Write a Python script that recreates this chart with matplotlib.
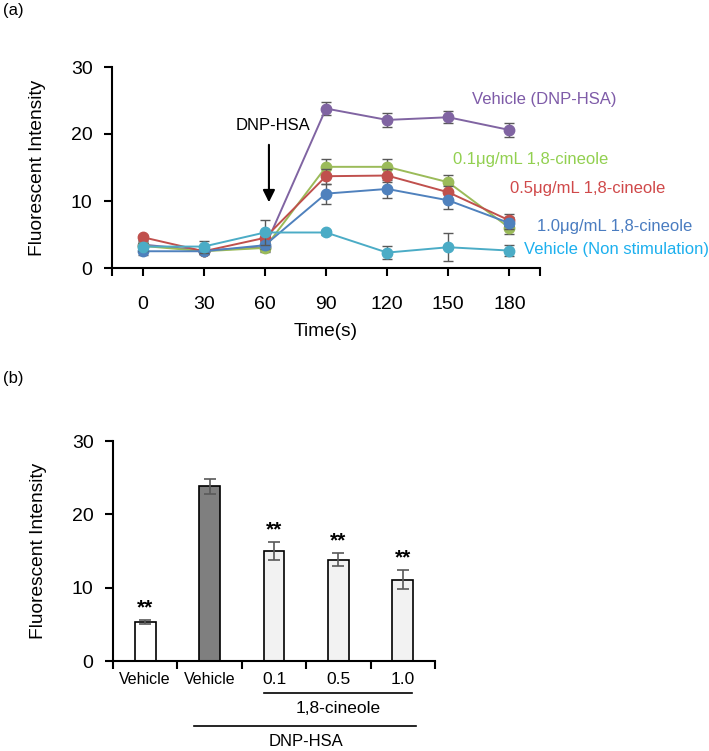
import matplotlib
matplotlib.use("Agg")
import matplotlib.pyplot as plt
import numpy as np

plt.rcParams['font.family'] = ['Liberation Sans', 'DejaVu Sans']

# (a) time course
times = [0, 30, 60, 90, 120, 150, 180]
series_names = ["Vehicle (DNP-HSA)", "0.1μg/mL 1,8-cineole", "0.5μg/mL 1,8-cineole",
                "1.0μg/mL 1,8-cineole", "Vehicle (Non stimulation)"]
vehicle_dnp = [3.5, 2.6, 3.1, 23.8, 22.1, 22.5, 20.6]
vehicle_dnp_err = [0.5, 0.4, 0.6, 1.0, 1.0, 0.9, 1.0]
cin_01 = [3.3, 2.5, 3.0, 15.1, 15.1, 12.8, 6.0]
cin_01_err = [0.5, 0.4, 0.6, 1.2, 1.2, 1.1, 0.9]
cin_05 = [4.6, 2.5, 4.5, 13.7, 13.8, 11.3, 7.1]
cin_05_err = [0.4, 0.4, 0.6, 1.1, 1.0, 1.0, 0.9]
cin_10 = [2.5, 2.5, 3.4, 11.1, 11.8, 10.1, 6.7]
cin_10_err = [0.5, 0.4, 0.6, 1.5, 1.3, 1.3, 0.9]
vehicle_ns = [3.2, 3.2, 5.3, 5.3, 2.3, 3.1, 2.6]
vehicle_ns_err = [0.6, 0.9, 1.9, 0.3, 1.0, 2.1, 0.8]

series = [vehicle_dnp, cin_01, cin_05, cin_10, vehicle_ns]
series_err = [vehicle_dnp_err, cin_01_err, cin_05_err, cin_10_err, vehicle_ns_err]
colors = ["#8064A2", "#9BBB59", "#C0504D", "#4F81BD", "#4BACC6"]
text_colors = ["#7E5BA8", "#92D050", "#D0494A", "#4A7CC0", "#1DB0EE"]
# label centres: (time axis value, intensity value)
label_x = [197.0, 190.5, 218.6, 231.4, 232.5]
label_y = [25.1, 16.2, 11.8, 6.25, 2.7]

# (b) bars at 90 s
bar_labels = ["Vehicle", "Vehicle", "0.1", "0.5", "1.0"]
bar_values = [5.3, 23.8, 15.0, 13.8, 11.1]
bar_err = [0.3, 1.0, 1.2, 0.9, 1.3]
bar_colors = ["white", "#7F7F7F", "#F2F2F2", "#F2F2F2", "#F2F2F2"]
bar_stars = ["**", "", "**", "**", "**"]

fig = plt.figure(figsize=(7.09, 7.51), dpi=100)

# ---------- panel a
ax = fig.add_axes([112 / 709, 1 - 268 / 751, 428 / 709, 201 / 751])
for i in range(len(series)):
    ax.errorbar(times, series[i], yerr=series_err[i], color=colors[i], marker="o",
                markersize=7.5, linewidth=1.4, ecolor="#595959", elinewidth=1.0,
                capsize=3.5, capthick=1.0, zorder=3 + i * 0.1)
ax.set_xlim(-15, 195)
ax.set_ylim(0, 30)
ax.set_yticks([0, 10, 20, 30])
ax.set_xticks([-15] + times + [195])
ax.set_xticklabels([""] + [str(t) for t in times] + [""])
ax.spines["top"].set_visible(False)
ax.spines["right"].set_visible(False)
ax.spines["left"].set_linewidth(1.5)
ax.spines["bottom"].set_linewidth(1.5)
ax.tick_params(direction="out", length=6, width=1.5, labelsize=14, pad=8)
ax.tick_params(axis="x", pad=14)
ax.set_ylabel("Fluorescent Intensity", fontsize=13.8, labelpad=18)
ax.set_xlabel("Time(s)", fontsize=13.8, labelpad=7)

for i in range(len(series)):
    ax.text(label_x[i], label_y[i], series_names[i], color=text_colors[i], fontsize=12,
            ha="center", va="center", clip_on=False)

ax.annotate("", xy=(62, 9.4), xytext=(62, 18.8),
            arrowprops=dict(arrowstyle="-|>", color="black", lw=1.5, mutation_scale=18))
ax.text(64, 21.3, "DNP-HSA", fontsize=12, ha="center", va="center")

fig.text(3 / 709, 1 - 10 / 751, "(a)", fontsize=12, ha="left", va="center")

# ---------- panel b
bx = fig.add_axes([113 / 709, 1 - 661 / 751, 322 / 709, 220 / 751])
pos = np.arange(len(bar_values))
bx.bar(pos, bar_values, width=0.32, color=bar_colors, edgecolor="black", linewidth=1.2,
       yerr=bar_err, ecolor="#595959", error_kw=dict(elinewidth=1.2, capsize=4, capthick=1.2))
for i in range(len(bar_values)):
    if bar_stars[i]:
        bx.text(pos[i], bar_values[i] + bar_err[i] + 0.4, bar_stars[i], fontsize=15,
                fontweight="bold", ha="center", va="bottom")
bx.set_xlim(-0.5, 4.5)
bx.set_ylim(0, 30)
bx.set_yticks([0, 10, 20, 30])
bx.set_xticks(np.arange(-0.5, 5.0, 1.0))
bx.set_xticklabels([])
bx.spines["top"].set_visible(False)
bx.spines["right"].set_visible(False)
bx.spines["left"].set_linewidth(1.5)
bx.spines["bottom"].set_linewidth(1.5)
bx.tick_params(direction="out", length=6, width=1.5, labelsize=14, pad=8)
bx.set_ylabel("Fluorescent Intensity", fontsize=13.8, labelpad=18)

trans = bx.get_xaxis_transform()
for i in range(len(bar_labels)):
    fs = 11.5 if bar_labels[i] == "Vehicle" else 12.5
    bx.text(pos[i], -0.082, bar_labels[i], fontsize=fs, ha="center", va="center",
            transform=trans)
bx.plot([1.85, 4.15], [-0.145, -0.145], color="black", lw=1.2, transform=trans, clip_on=False)
bx.text(3.0, -0.214, "1,8-cineole", fontsize=12.5, ha="center", va="center", transform=trans)
bx.plot([0.75, 4.2], [-0.295, -0.295], color="black", lw=1.2, transform=trans, clip_on=False)
bx.text(2.5, -0.368, "DNP-HSA", fontsize=12, ha="center", va="center", transform=trans)

fig.text(3 / 709, 1 - 378 / 751, "(b)", fontsize=12, ha="left", va="center")

fig.savefig("out.png", dpi=100)
